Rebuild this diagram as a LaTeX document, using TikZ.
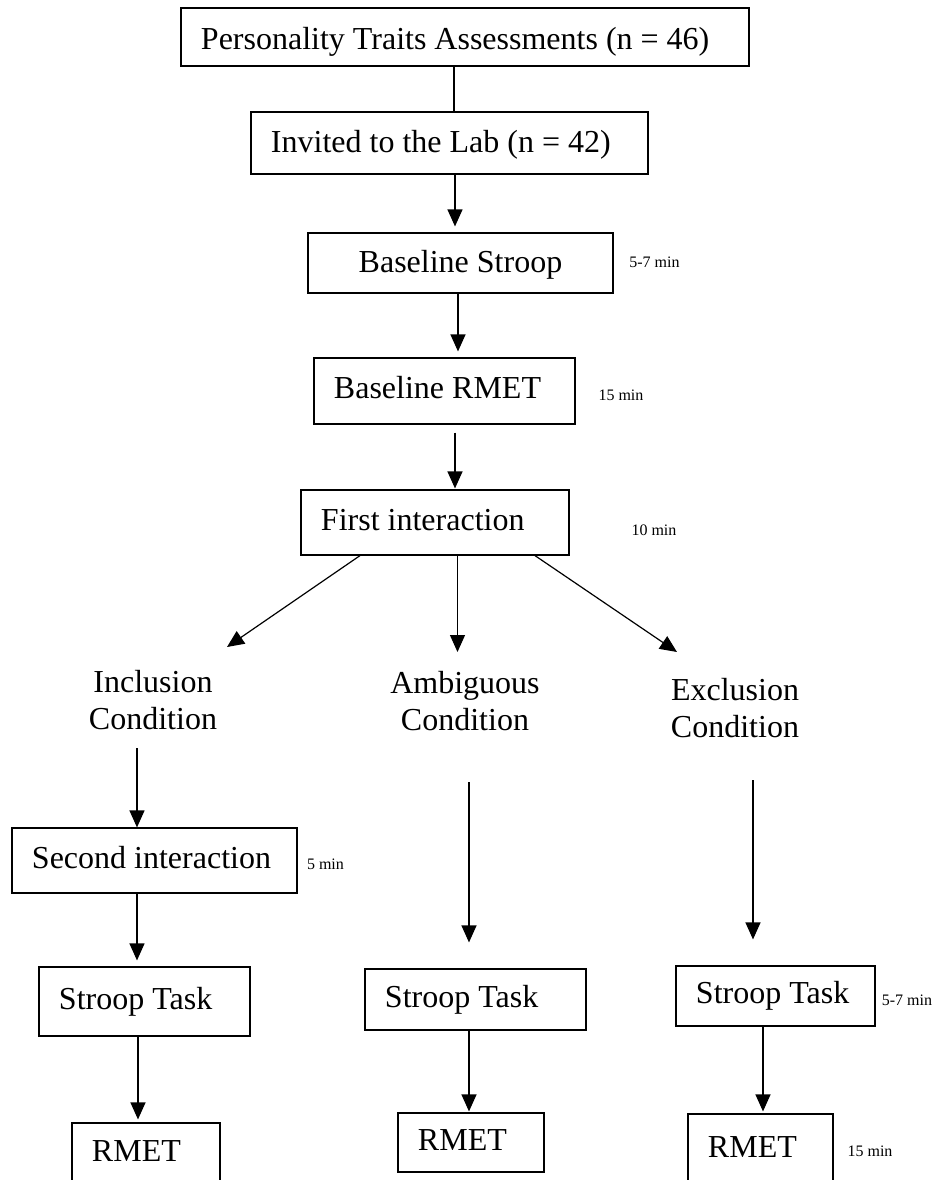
\documentclass[tikz,border=0pt]{standalone}
\usepackage{fontspec}
\setmainfont{Liberation Serif}
\usetikzlibrary{positioning,arrows.meta}

\begin{document}
\begin{tikzpicture}[ - > , >={Triangle[length=8.5pt,width=7.5pt]} , shorten >=3pt , line width =0.6 pt , node distance =2 cm,
		box/.style={draw, align=left, inner xsep=10pt, inner ysep=0pt, text height=10.4pt, text depth=2.8pt, font=\fontsize{16}{18.4}\selectfont, execute at begin node={\spaceskip=4pt\relax}},
		cond/.style={align=center, font=\fontsize{16}{18.5}\selectfont},
		dur/.style={font=\fontsize{8}{9.6}\selectfont}]
			\useasboundingbox (-232.5pt,18.5pt) rectangle (235pt,-571.5pt);
			\node [box, text width=264pt, minimum height=29pt, text height=14.4pt, text depth=2.4pt] (traits) {Personality Traits Assessments (n = 46)};
			\node [box, text width=178.5pt, minimum height=31pt, text height=11.8pt] (lab) [node distance=53pt, below of=traits, xshift=-7.75pt] {Invited to the Lab (n = 42)};
			\node [box, align=center, text width=132.5pt, minimum height=30pt, text height=11.8pt] (bstroop) [node distance=60pt, below of=lab, xshift=5.5pt] {Baseline Stroop};
			\node [box, text width=110.5pt, minimum height=33pt] (brmet) [node distance=64pt, below of=bstroop, xshift=-8pt] {Baseline RMET};
			\node [box, text width=114pt, minimum height=32.5pt] (first) [node distance=65.75pt, below of=brmet, xshift=-4.75pt] {First interaction};
			\node [cond] (incl) [node distance=88.75pt, below of=first, xshift=-141pt] {Inclusion\\Condition};
			\node [cond] (ambig) [node distance=89.25pt, below of=first, xshift=15pt] {Ambiguous\\Condition};
			\node [cond] (excl) [node distance=92.75pt, below of=first, xshift=150pt] {Exclusion\\Condition};
			\node [box, text width=122.5pt, minimum height=32.5pt] (second) [node distance=80.25pt, below of=incl, xshift=0.75pt] {Second interaction};
			\node [box, text width=85.5pt, minimum height=34.5pt] (lstroop) [node distance=70.5pt, below of=second, xshift=-5pt] {Stroop Task};
			\node [box, text width=54pt, minimum height=31pt] (lrmet) [node distance=76.25pt, below of=lstroop, xshift=0.75pt] {RMET};
			\node [box, text width=90.5pt, minimum height=30.5pt] (mstroop) [node distance=149.25pt, below of=ambig, xshift=5.25pt] {Stroop Task};
			\node [box, text width=53pt, minimum height=29.5pt] (mrmet) [node distance=71.5pt, below of=mstroop, xshift=-2.25pt] {RMET};
			\node [box, text width=79.5pt, minimum height=30pt] (rstroop) [node distance=144pt, below of=excl, xshift=20.25pt] {Stroop Task};
			\node [box, text width=52.5pt, minimum height=36pt] (rrmet) [node distance=77pt, below of=rstroop, xshift=-7.5pt] {RMET};
			% durations
			\node [dur] (t1) [node distance=97pt, right of=bstroop, yshift=0.5pt] {5-7 min};
			\node [dur] (t2) [node distance=88.25pt, right of=brmet, yshift=-2pt] {15 min};
			\node [dur] (t3) [node distance=109.5pt, right of=first, yshift=-3.75pt] {10 min};
			\node [dur] (t4) [node distance=85.5pt, right of=second, yshift=-1.75pt] {5 min};
			\node [dur] (t5) [node distance=65.75pt, right of=rstroop, yshift=-2pt] {5-7 min};
			\node [dur] (t6) [node distance=54.75pt, right of=rrmet, yshift=-0.5pt] {15 min};
			% connectors
			\path ([xshift=-5.5pt]traits.south) edge [-, shorten >=0pt] ([xshift=2.25pt]lab.north) ;
			\path ([xshift=2.75pt]lab.south) edge ([xshift=-2.75pt]bstroop.north) ;
			\path ([xshift=-1.25pt]bstroop.south) edge ([xshift=6.75pt]brmet.north) ;
			\path ([xshift=5.25pt]brmet.south) edge [shorten <=4pt, shorten >=0.5pt] ([xshift=10pt]first.north) ;
			\path ([xshift=-37.5pt]first.south) edge [shorten >=0pt] ([shift={(37pt,26.5pt)}]incl.center) ;
			\path ([xshift=11.25pt]first.south) edge [shorten >=0pt] ([shift={(-3.75pt,24.5pt)}]ambig.center) ;
			\path ([xshift=50pt]first.south) edge [shorten >=0pt] ([shift={(-29pt,28pt)}]excl.center) ;
			\path ([xshift=-8pt]incl.center) edge [shorten <=24pt, shorten >=0pt] ([xshift=-8.75pt]second.north) ;
			\path ([xshift=-8.75pt]second.south) edge ([xshift=-3.75pt]lstroop.north) ;
			\path ([xshift=-3.25pt]lstroop.south) edge [shorten >=1.5pt] ([xshift=-4pt]lrmet.north) ;
			\path ([xshift=2pt]ambig.center) edge [shorten <=40.5pt, shorten >=13pt] ([xshift=-3.25pt]mstroop.north) ;
			\path ([xshift=-3.25pt]mstroop.south) edge [shorten >=0.5pt] ([xshift=-1pt]mrmet.north) ;
			\path ([xshift=9pt]excl.center) edge [shorten <=36pt, shorten >=13pt] ([xshift=-11.25pt]rstroop.north) ;
			\path ([xshift=-6.25pt]rstroop.south) edge [shorten >=1pt] ([xshift=1.25pt]rrmet.north) ;
		\end{tikzpicture}
\end{document}
